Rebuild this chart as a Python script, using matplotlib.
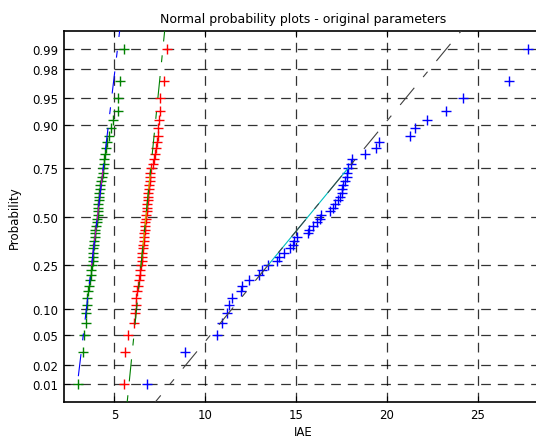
import matplotlib
matplotlib.use("Agg")
import matplotlib.pyplot as plt
import numpy as np
from statistics import NormalDist

# ---- data (IAE values, sorted) ----
iae_blue = [6.77, 8.91, 10.65, 10.92, 11.18, 11.33, 11.45, 11.97, 12.00, 12.43,
            12.96, 13.10, 13.45, 13.94, 14.04, 14.34, 14.67, 14.82, 14.86, 15.06,
            15.68, 15.73, 15.95, 16.18, 16.32, 16.38, 16.87, 17.06, 17.15, 17.30,
            17.42, 17.51, 17.53, 17.61, 17.70, 17.78, 17.82, 17.86, 18.00, 18.09,
            18.80, 19.41, 19.57, 21.28, 21.56, 22.20, 23.25, 24.22, 26.70, 27.80]
iae_green = [3.01, 3.24, 3.30, 3.43, 3.44, 3.48, 3.51, 3.54, 3.58, 3.65,
             3.71, 3.72, 3.74, 3.79, 3.80, 3.82, 3.84, 3.85, 3.89, 3.91,
             3.94, 3.95, 4.00, 4.04, 4.05, 4.07, 4.09, 4.11, 4.12, 4.13,
             4.16, 4.17, 4.22, 4.23, 4.28, 4.31, 4.35, 4.38, 4.42, 4.44,
             4.49, 4.55, 4.61, 4.71, 4.81, 4.94, 5.17, 5.19, 5.28, 5.55]
iae_red = [5.50, 5.58, 5.74, 6.08, 6.12, 6.18, 6.21, 6.24, 6.28, 6.33,
           6.38, 6.42, 6.46, 6.49, 6.51, 6.54, 6.56, 6.58, 6.61, 6.62,
           6.64, 6.66, 6.68, 6.70, 6.72, 6.75, 6.77, 6.79, 6.80, 6.82,
           6.84, 6.86, 6.88, 6.91, 6.93, 6.96, 6.98, 7.00, 7.10, 7.18,
           7.24, 7.28, 7.32, 7.37, 7.41, 7.45, 7.49, 7.50, 7.72, 7.90]
prob_ticks = [0.01, 0.02, 0.05, 0.10, 0.25, 0.50, 0.75, 0.90, 0.95, 0.98, 0.99]
prob_labels = ['0.01', '0.02', '0.05', '0.10', '0.25', '0.50', '0.75', '0.90', '0.95', '0.98', '0.99']
x_ticks = [5, 10, 15, 20, 25]

title = 'Normal probability plots - original parameters'
xlabel = 'IAE'
ylabel = 'Probability'

# MATLAB (old) default color order
mc = [(0, 0, 1), (0, 0.5, 0), (1, 0, 0), (0, 0.75, 0.75),
      (0.75, 0, 0.75), (0.75, 0.75, 0), (0.25, 0.25, 0.25)]

nd = NormalDist()
plt.rcParams['font.family'] = ['DejaVu Sans']
plt.rcParams['lines.scale_dashes'] = False

fig = plt.figure(figsize=(5.36, 4.39), dpi=100)
W, H = 536, 439
left_px, right_px, top_px, bot_px = 64, 543, 32.3, 403.3
ax = fig.add_axes([left_px / W, 1 - bot_px / H, (right_px - left_px) / W, (bot_px - top_px) / H])

series = [np.sort(np.array(iae_blue)), np.sort(np.array(iae_green)), np.sort(np.array(iae_red))]
n = len(series[0])


def prctile(v, p):
    # MATLAB-style percentile
    v = np.sort(v)
    m = len(v)
    pos = m * p / 100.0 + 0.5
    pos = min(max(pos, 1), m)
    lo = int(np.floor(pos))
    hi = min(lo + 1, m)
    f = pos - lo
    return v[lo - 1] * (1 - f) + v[hi - 1] * f


# data markers
ys = []
for k, x in enumerate(series):
    y = np.array([nd.inv_cdf((i - 0.5) / len(x)) for i in range(1, len(x) + 1)])
    ys.append(y)
    ax.plot(x, y, linestyle='none', marker='+', ms=7.5, mew=1.0, color=mc[k], zorder=3)

# quartile lines and extension lines
ext_style = (0, (16, 10, 5, 10))
for k, (x, y) in enumerate(zip(series, ys)):
    q1x, q3x = prctile(x, 25), prctile(x, 75)
    q1y, q3y = prctile(y, 25), prctile(y, 75)
    ax.plot([q1x, q3x], [q1y, q3y], '-', color=mc[3 + k], lw=0.8, zorder=4)
for k, (x, y) in enumerate(zip(series, ys)):
    q1x, q3x = prctile(x, 25), prctile(x, 75)
    q1y, q3y = prctile(y, 25), prctile(y, 75)
    slope = (q3y - q1y) / (q3x - q1x)
    cx, cy = (q1x + q3x) / 2, (q1y + q3y) / 2
    mnx, mxx = x.min(), x.max()
    ax.plot([mnx, mxx], [cy - slope * (cx - mnx), cy + slope * (mxx - cx)],
            linestyle=ext_style, color=mc[(6 + k) % 7], lw=0.8, zorder=5)

ylim = nd.inv_cdf(1 - 0.25 / n)
ax.set_ylim(-ylim, ylim)
ax.set_xlim(2.22, 28.6)
ax.set_yticks([nd.inv_cdf(p) for p in prob_ticks])
ax.set_yticklabels(prob_labels)
ax.set_xticks(x_ticks)
ax.grid(True, color='black', linestyle=(0, (7, 5)), lw=0.9, alpha=0.8)
ax.tick_params(direction='in', length=4, width=0.8, labelsize=8.5, top=True, right=True,
               pad=4, colors='black')
for s in ax.spines.values():
    s.set_linewidth(1.2)

ax.set_title(title, fontsize=9, pad=7)
ax.set_xlabel(xlabel, fontsize=8.5, labelpad=3)
ax.set_ylabel(ylabel, fontsize=8.5, labelpad=8)

fig.savefig('out.png', dpi=100)
